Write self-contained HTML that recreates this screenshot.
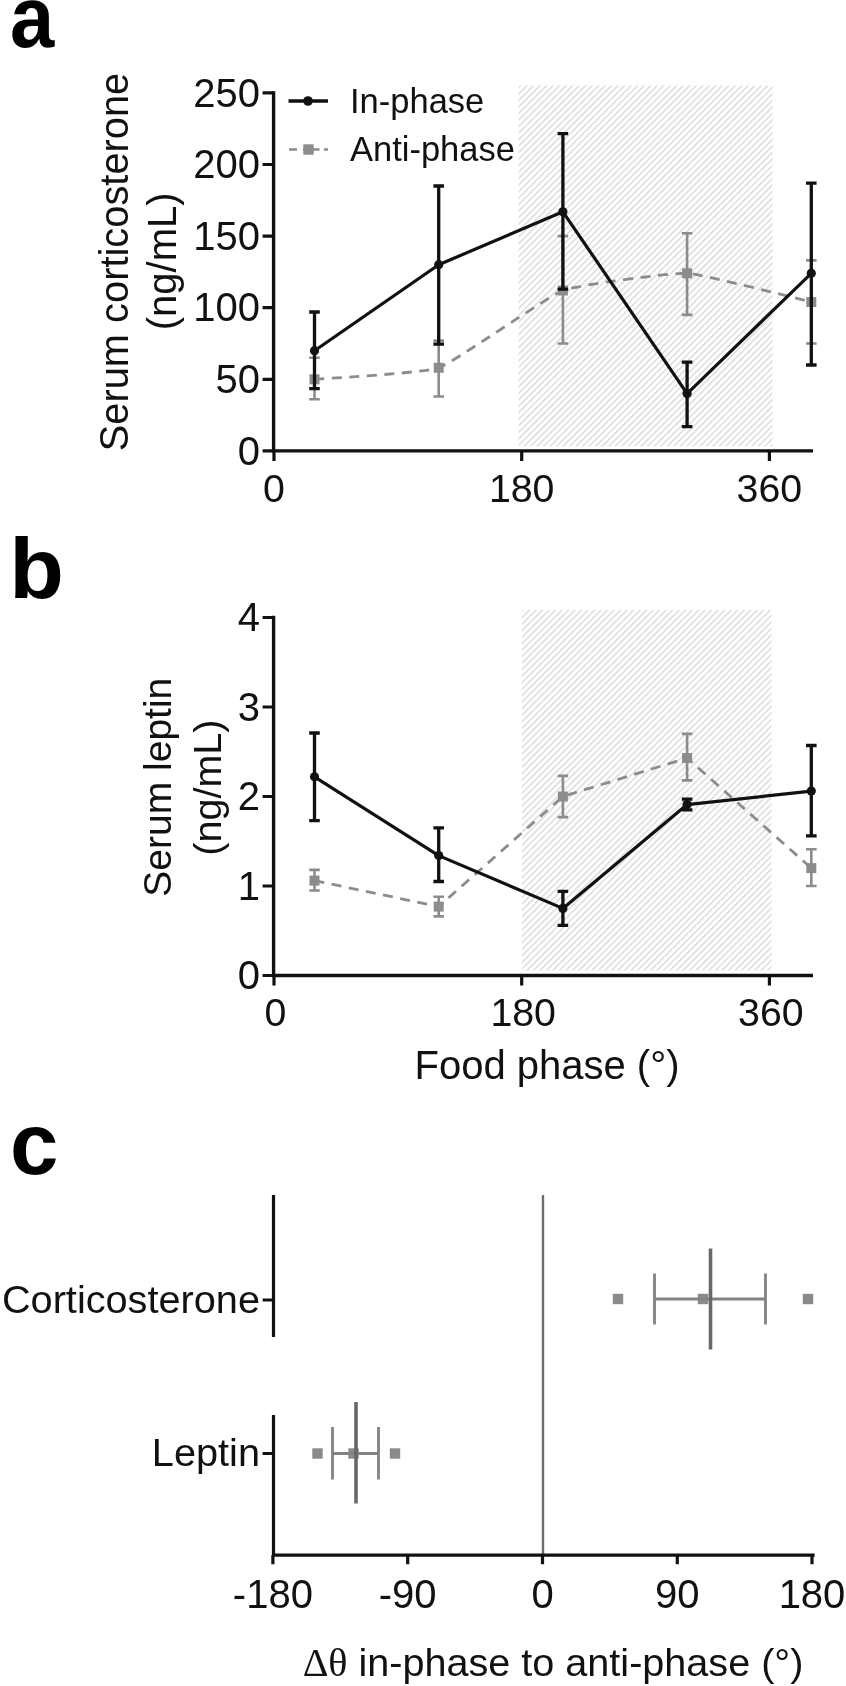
<!DOCTYPE html>
<html><head><meta charset="utf-8"><title>Figure</title>
<style>
html,body{margin:0;padding:0;background:#fff;overflow:hidden}
svg{display:block;filter:blur(0.6px)}
text{font-family:"Liberation Sans",Arial,sans-serif;fill:#111}
.b{font-weight:bold;fill:#000}
.s{font-family:"Liberation Serif","DejaVu Serif",serif}
</style></head>
<body>
<svg width="846" height="1686" viewBox="0 0 846 1686">
<defs>
<pattern id="h" width="4.6" height="4.6" patternUnits="userSpaceOnUse" patternTransform="rotate(-45)"><rect x="0" y="0" width="4.6" height="1.5" fill="#dbdbdb"/></pattern>
</defs>
<rect width="846" height="1686" fill="#fff"/>
<g id="panel-a">
<rect x="518.6" y="85.5" width="253.89999999999998" height="361.0" fill="url(#h)"/>
<path d="M273.6 91.2V450.9M271.9 450.9H813" stroke="#111" stroke-width="3.4" fill="none"/>
<path d="M262.6 450.9H273.6M262.6 379.3H273.6M262.6 307.7H273.6M262.6 236.1H273.6M262.6 164.5H273.6M262.6 92.9H273.6M274.0 450.9V460.9M521.7 450.9V460.9M769.4 450.9V460.9" stroke="#111" stroke-width="3.2" fill="none"/>
<text x="260" y="464.5" font-size="40" text-anchor="end">0</text>
<text x="260" y="392.9" font-size="40" text-anchor="end">50</text>
<text x="260" y="321.3" font-size="40" text-anchor="end">100</text>
<text x="260" y="249.7" font-size="40" text-anchor="end">150</text>
<text x="260" y="178.1" font-size="40" text-anchor="end">200</text>
<text x="260" y="106.5" font-size="40" text-anchor="end">250</text>
<text x="274.0" y="502.2" font-size="39.3" text-anchor="middle">0</text>
<text x="521.7" y="502.2" font-size="39.3" text-anchor="middle">180</text>
<text x="769.4" y="502.2" font-size="39.3" text-anchor="middle">360</text>
<text transform="translate(128 262) rotate(-90)" font-size="39.85" text-anchor="middle">Serum corticosterone</text>
<text transform="translate(176 261.3) rotate(-90)" font-size="40" text-anchor="middle">(ng/mL)</text>
<path d="M314.5 379.3C322.0 378.6 423.8 373.2 438.7 367.8C453.6 362.5 548.0 296.2 562.9 290.5C577.8 284.8 672.2 272.6 687.1 273.3C702.0 274.0 803.8 300.3 811.3 302.0" fill="none" stroke="#8c8c8c" stroke-width="2.8" stroke-dasharray="10 7.5"/>
<path d="M314.5 399.3V357.8M309.2 399.3h10.6M309.2 357.8h10.6M438.7 396.5V340.6M433.4 396.5h10.6M433.4 340.6h10.6M562.9 343.5V236.1M557.6 343.5h10.6M557.6 236.1h10.6M687.1 314.9V233.2M681.8 314.9h10.6M681.8 233.2h10.6M811.3 343.5V260.4M806.0 343.5h10.6M806.0 260.4h10.6" stroke="#8c8c8c" stroke-width="2.6" fill="none"/>
<rect x="309.5" y="374.3" width="10" height="10" fill="#8c8c8c"/>
<rect x="433.7" y="362.8" width="10" height="10" fill="#8c8c8c"/>
<rect x="557.9" y="285.5" width="10" height="10" fill="#8c8c8c"/>
<rect x="682.1" y="268.3" width="10" height="10" fill="#8c8c8c"/>
<rect x="806.3" y="297.0" width="10" height="10" fill="#8c8c8c"/>
<polyline points="314.5,350.7 438.7,264.7 562.9,211.8 687.1,393.6 811.3,273.3" fill="none" stroke="#111" stroke-width="3.2" stroke-linejoin="round"/>
<path d="M314.5 388.6V312.0M309.2 388.6h10.6M309.2 312.0h10.6M438.7 344.2V186.0M433.4 344.2h10.6M433.4 186.0h10.6M562.9 289.1V133.7M557.6 289.1h10.6M557.6 133.7h10.6M687.1 426.6V362.1M681.8 426.6h10.6M681.8 362.1h10.6M811.3 365.0V183.1M806.0 365.0h10.6M806.0 183.1h10.6" stroke="#111" stroke-width="3.3" fill="none"/>
<circle cx="314.5" cy="350.7" r="4.6" fill="#111"/>
<circle cx="438.7" cy="264.7" r="4.6" fill="#111"/>
<circle cx="562.9" cy="211.8" r="4.6" fill="#111"/>
<circle cx="687.1" cy="393.6" r="4.6" fill="#111"/>
<circle cx="811.3" cy="273.3" r="4.6" fill="#111"/>
<path d="M288.5 101H328" stroke="#111" stroke-width="3.3"/><circle cx="308" cy="101" r="4.8" fill="#111"/>
<text x="350" y="113" font-size="34.5">In-phase</text>
<path d="M289 149.5h8m6 0h16.5m4.5 0h4" stroke="#8c8c8c" stroke-width="2.6"/><rect x="303.3" y="144.3" width="10.4" height="10.4" fill="#8c8c8c"/>
<text x="350" y="161" font-size="34.5">Anti-phase</text>
<text class="b" transform="translate(10 47) scale(0.92 1)" font-size="86.5">a</text>
</g>
<g id="panel-b">
<rect x="522" y="610" width="249.5" height="360.5" fill="url(#h)"/>
<path d="M273.6 615.8V975.5M271.9 975.5H813" stroke="#111" stroke-width="3.4" fill="none"/>
<path d="M262.6 975.5H273.6M262.6 886.0H273.6M262.6 796.5H273.6M262.6 707.0H273.6M262.6 617.5H273.6M274.0 975.5V985.5M521.7 975.5V985.5M769.4 975.5V985.5" stroke="#111" stroke-width="3.2" fill="none"/>
<text x="260" y="989.1" font-size="40" text-anchor="end">0</text>
<text x="260" y="899.6" font-size="40" text-anchor="end">1</text>
<text x="260" y="810.1" font-size="40" text-anchor="end">2</text>
<text x="260" y="720.6" font-size="40" text-anchor="end">3</text>
<text x="260" y="631.1" font-size="40" text-anchor="end">4</text>
<text x="275.5" y="1026.1" font-size="39.3" text-anchor="middle">0</text>
<text x="523.2" y="1026.1" font-size="39.3" text-anchor="middle">180</text>
<text x="770.9" y="1026.1" font-size="39.3" text-anchor="middle">360</text>
<text transform="translate(171 787.2) rotate(-90)" font-size="39" text-anchor="middle">Serum leptin</text>
<text transform="translate(220.5 787.6) rotate(-90)" font-size="39.5" text-anchor="middle">(ng/mL)</text>
<polyline points="314.5,880.6 438.7,906.6 562.9,796.5 687.1,758.0 811.3,868.1" fill="none" stroke="#8c8c8c" stroke-width="2.8" stroke-dasharray="10 7.5"/>
<path d="M314.5 890.5V869.9M309.2 890.5h10.6M309.2 869.9h10.6M438.7 916.4V896.7M433.4 916.4h10.6M433.4 896.7h10.6M562.9 817.1V775.9M557.6 817.1h10.6M557.6 775.9h10.6M687.1 780.4V733.9M681.8 780.4h10.6M681.8 733.9h10.6M811.3 886.0V849.3M806.0 886.0h10.6M806.0 849.3h10.6" stroke="#8c8c8c" stroke-width="2.6" fill="none"/>
<rect x="309.5" y="875.6" width="10" height="10" fill="#8c8c8c"/>
<rect x="433.7" y="901.6" width="10" height="10" fill="#8c8c8c"/>
<rect x="557.9" y="791.5" width="10" height="10" fill="#8c8c8c"/>
<rect x="682.1" y="753.0" width="10" height="10" fill="#8c8c8c"/>
<rect x="806.3" y="863.1" width="10" height="10" fill="#8c8c8c"/>
<polyline points="314.5,776.8 438.7,855.6 562.9,908.4 687.1,804.6 811.3,791.1" fill="none" stroke="#111" stroke-width="3.2" stroke-linejoin="round"/>
<path d="M314.5 820.7V733.0M309.2 820.7h10.6M309.2 733.0h10.6M438.7 881.5V827.8M433.4 881.5h10.6M433.4 827.8h10.6M562.9 925.4V891.4M557.6 925.4h10.6M557.6 891.4h10.6M687.1 809.9V799.2M681.8 809.9h10.6M681.8 799.2h10.6M811.3 835.9V745.5M806.0 835.9h10.6M806.0 745.5h10.6" stroke="#111" stroke-width="3.3" fill="none"/>
<circle cx="314.5" cy="776.8" r="4.6" fill="#111"/>
<circle cx="438.7" cy="855.6" r="4.6" fill="#111"/>
<circle cx="562.9" cy="908.4" r="4.6" fill="#111"/>
<circle cx="687.1" cy="804.6" r="4.6" fill="#111"/>
<circle cx="811.3" cy="791.1" r="4.6" fill="#111"/>
<text x="547" y="1079.2" font-size="40" text-anchor="middle">Food phase (°)</text>
<text class="b" transform="translate(9.3 597.8) scale(1.04 1)" font-size="86">b</text>
</g>
<g id="panel-c">
<path d="M543 1195V1555" stroke="#6e6e6e" stroke-width="2.4"/>
<path d="M273.5 1195V1337M273.5 1415V1556.8M271.9 1555.2H814.6" stroke="#111" stroke-width="3.2" fill="none"/>
<path d="M262.6 1300H273.5M262.6 1453.5H273.5M272.9 1555.2V1564.2M407.7 1555.2V1564.2M542.5 1555.2V1564.2M677.3 1555.2V1564.2M812.0 1555.2V1564.2" stroke="#111" stroke-width="3.2" fill="none"/>
<text x="272.9" y="1607.8" font-size="40" text-anchor="middle">-180</text>
<text x="407.7" y="1607.8" font-size="40" text-anchor="middle">-90</text>
<text x="542.5" y="1607.8" font-size="40" text-anchor="middle">0</text>
<text x="677.3" y="1607.8" font-size="40" text-anchor="middle">90</text>
<text x="812.0" y="1607.8" font-size="40" text-anchor="middle">180</text>
<text x="260" y="1313" font-size="39.7" text-anchor="end">Corticosterone</text>
<text x="260" y="1466" font-size="39.7" text-anchor="end">Leptin</text>
<text x="553" y="1676.2" font-size="39.6" text-anchor="middle"><tspan class="s" font-size="40">Δθ</tspan> in-phase to anti-phase (°)</text>
<rect x="612.8" y="1293.8" width="10.4" height="10.4" fill="#8a8a8a"/>
<rect x="697.8" y="1293.8" width="10.4" height="10.4" fill="#8a8a8a"/>
<rect x="802.8" y="1293.8" width="10.4" height="10.4" fill="#8a8a8a"/>
<path d="M654.5 1299H765.5M654.5 1273.5V1324.5M765.5 1273.5V1324.5" stroke="#828282" stroke-width="2.8" fill="none"/>
<path d="M710.5 1248.5V1349.5" stroke="#686868" stroke-width="3.6"/>
<rect x="312.3" y="1448.3" width="10.4" height="10.4" fill="#8a8a8a"/>
<rect x="348.3" y="1448.3" width="10.4" height="10.4" fill="#8a8a8a"/>
<rect x="389.8" y="1448.3" width="10.4" height="10.4" fill="#8a8a8a"/>
<path d="M332.5 1453.5H378.5M332.5 1427V1479.5M378.5 1427V1479.5" stroke="#828282" stroke-width="2.8" fill="none"/>
<path d="M356 1402V1503.5" stroke="#686868" stroke-width="3.6"/>
<text class="b" x="10" y="1174" font-size="87">c</text>
</g>
</svg>
</body></html>
